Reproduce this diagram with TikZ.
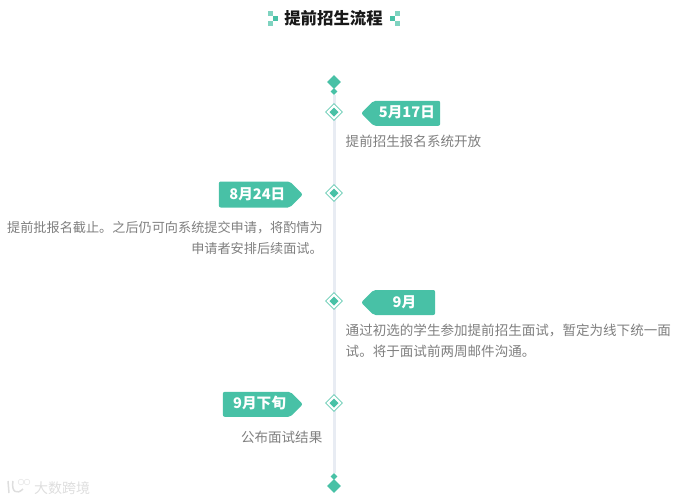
\documentclass[tikz,border=0pt]{standalone}
\usepackage{fontspec}
\setmainfont{Noto Sans CJK SC}
\usepackage{xcolor}
\definecolor{teal}{HTML}{48C1A6}
\definecolor{paleteal}{HTML}{7FD3C0}
\definecolor{spine}{HTML}{E8ECF3}
\definecolor{bodygray}{HTML}{7F7F7F}
\definecolor{markgray}{HTML}{DEDEDE}
\usetikzlibrary{positioning,shapes.geometric,shapes.symbols,backgrounds}

\begin{document}
\begin{tikzpicture}[x=1pt,y=-1pt,
  solid/.style={diamond, fill=teal, inner sep=0pt},
  mile/.style={diamond, draw=teal!85, fill=white, line width=0.8pt, inner sep=0pt, minimum size=17pt, path picture={\fill[teal] (path picture bounding box.center) +(-4.5pt,0) -- +(0,-4.5pt) -- +(4.5pt,0) -- +(0,4.5pt) -- cycle;}},
  tagr/.style={signal, signal to=west, signal pointer angle=90, fill=teal, rounded corners=2pt, text=white, font=\fontsize{14.6pt}{16pt}\selectfont\bfseries, inner sep=0pt, minimum height=25pt, text height=10pt, text depth=1pt},
  tagl/.style={tagr, signal to=east},
  bodytext/.style={text=bodygray, font=\fontsize{13.55pt}{21pt}\selectfont, inner sep=0pt},
  pix/.style={fill=teal, minimum size=5pt, inner sep=0pt}]
  \useasboundingbox (0,0) rectangle (678,501);
  % title
  \node[font=\fontsize{16.4pt}{18pt}\selectfont\bfseries, text=black!90, inner sep=0pt] (title) at (333.5,18) {提前招生流程};
  \node[pix, fill=paleteal] (la) at (270.5,13.5) {};
  \node[pix] (lb) at (275.5,18.5) {};
  \node[pix, fill=paleteal] (lc) at (270.5,23.5) {};
  \node[pix, fill=paleteal] (ra) at (397.5,13.5) {};
  \node[pix] (rb) at (392.5,18.5) {};
  \node[pix, fill=paleteal] (rc) at (397.5,23.5) {};
  % end markers
  \node[solid, minimum size=14pt] (topa) at (334,82) {};
  \node[solid, minimum size=7pt] (topb) at (334,91.5) {};
  \node[solid, minimum size=7pt] (botb) at (334,476.5) {};
  \node[solid, minimum size=14pt] (bota) at (334,486) {};
  % milestones
  \node[mile] (m1) at (334,112) {};
  \node[mile] (m2) at (334,193) {};
  \node[mile] (m3) at (334,301) {};
  \node[mile] (m4) at (334,403) {};
  \begin{scope}[on background layer]
    \draw[spine, line width=3pt] (topb) -- (botb);
  \end{scope}
  % tags
  \node[tagr, minimum width=79pt, right=18pt of m1, yshift=-1.3pt] (t1) {5月17日};
  \node[tagl, minimum width=84pt, minimum height=26pt, left=22pt of m2, yshift=-1.5pt] (t2) {\kern6pt 8月24日};
  \node[tagr, minimum width=74pt, right=18pt of m3, yshift=-1.5pt] (t3) {9月};
  \node[tagl, minimum width=80pt, left=22pt of m4, yshift=-1.3pt] (t4) {\kern6pt 9月下旬};
  % texts
  \node[bodytext, anchor=west] (d1) at (345.5,141) {提前招生报名系统开放};
  \node[bodytext, font=\fontsize{13.15pt}{21pt}\selectfont, align=right, anchor=east] (d2) at (323,238) {提前批报名截止。之后仍可向系统提交申请，将酌情为\\申请者安排后续面试。};
  \node[bodytext, align=left, anchor=west] (d3) at (345.5,340.5) {通过初选的学生参加提前招生面试，暂定为线下统一面\\试。将于面试前两周邮件沟通。};
  \node[bodytext, anchor=east] (d4) at (322.5,437) {公布面试结果};
  % watermark
  \node[text=markgray, font=\fontsize{14pt}{15pt}\selectfont, inner sep=0pt, anchor=west] (mark) at (34,488) {大数跨境};
  \draw[markgray, line width=1.5pt] (8,481) -- (9,493) (13,481) .. controls (11,492) and (17,495) .. (23,489);
  \node[draw=markgray, circle, inner sep=2pt] (ca) at (21,482) {};
  \node[draw=markgray, circle, inner sep=2pt] (cb) at (27,482) {};
\end{tikzpicture}
\end{document}
